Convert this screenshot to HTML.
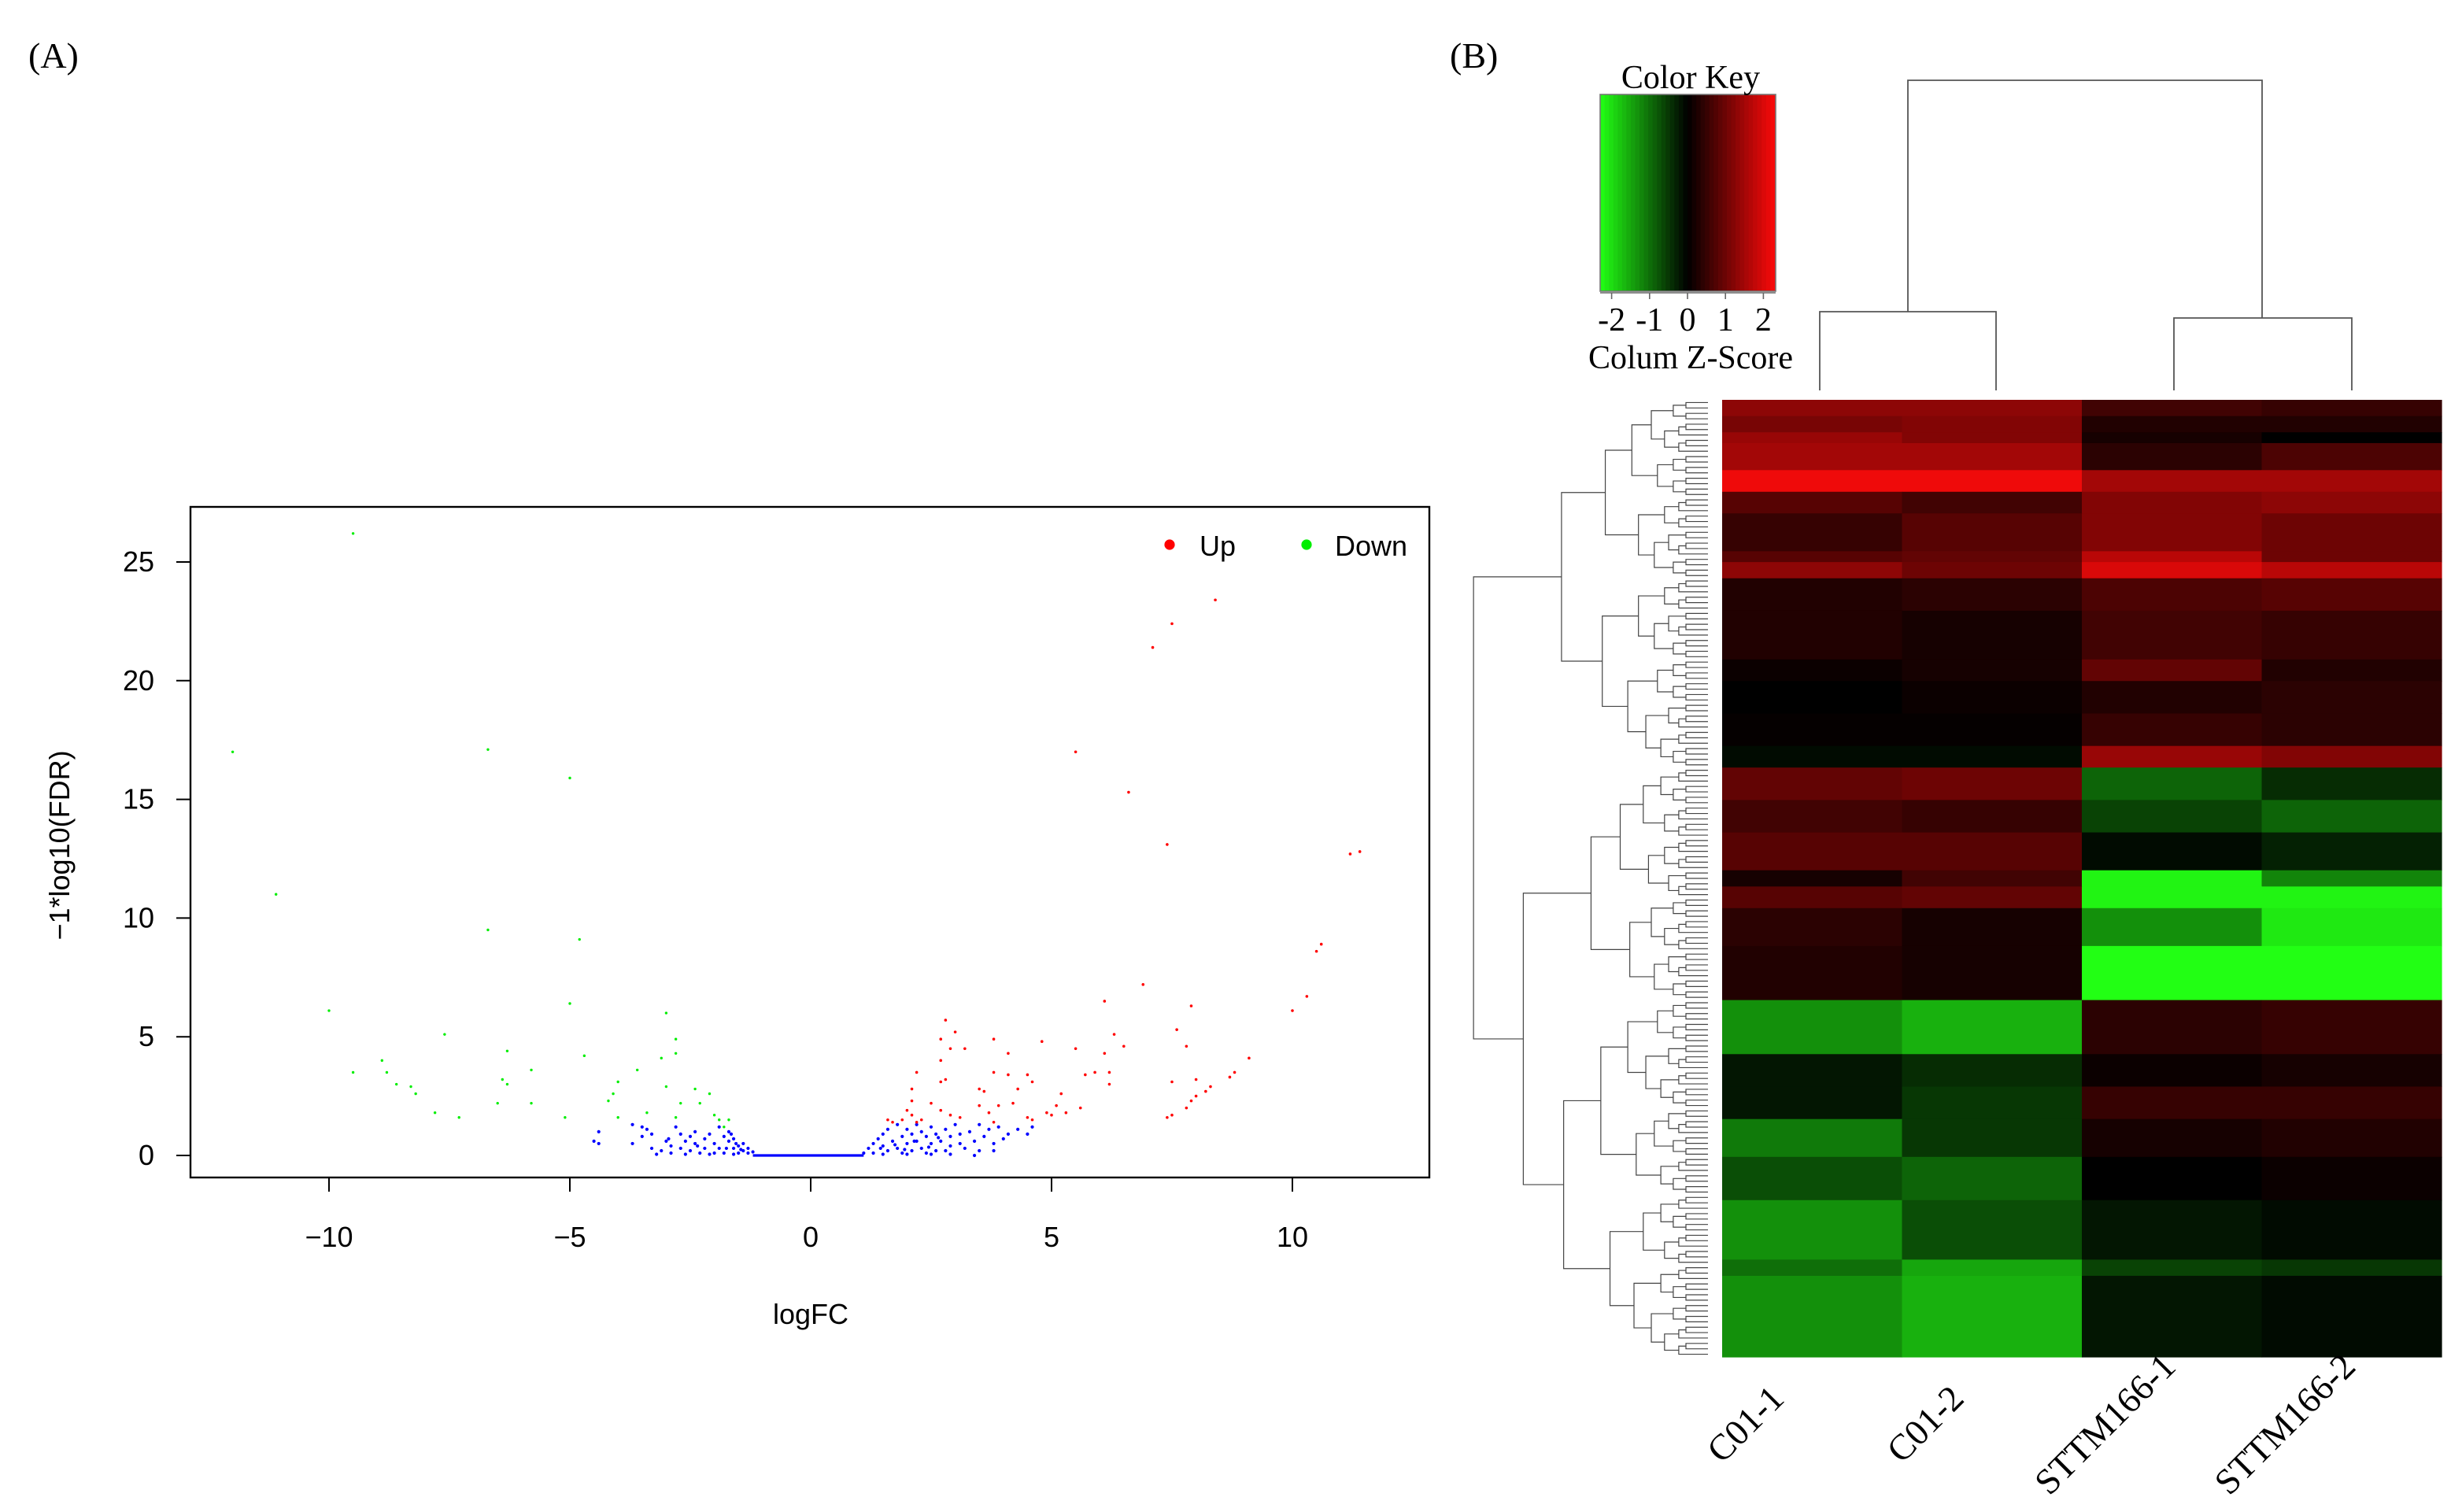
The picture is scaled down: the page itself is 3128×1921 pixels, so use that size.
<!DOCTYPE html>
<html><head><meta charset="utf-8"><style>
html,body{margin:0;padding:0;background:#fff}
svg{display:block}
.sans{font-family:"Liberation Sans",sans-serif}
.serif{font-family:"Liberation Serif",serif}
</style></head><body>
<svg id="fig" width="3128" height="1921" viewBox="0 0 1564 960.5" xmlns="http://www.w3.org/2000/svg">
<rect x="0" y="0" width="1564" height="960.5" fill="#fff"/>
<text class="serif" x="18" y="43" font-size="23">(A)</text>
<text class="serif" x="921" y="43" font-size="23">(B)</text>
<g id="volcano"></g>
<g id="heat"></g>
</svg>
<script>
// ---------------- Volcano data ----------------
const xTicks = [-10, -5, 0, 5, 10];
const yTicks = [0, 5, 10, 15, 20, 25];
const downX = [-9.5,-12,-6.7,-5,-11.1,-6.7,-4.8,-10,-5,-3,-7.6,-2.8,-6.3,-4.7,-2.8,-8.9,-9.5,-8.8,-3.1,-5.8,-3.6,-8.6,-6.4,-6.3,-4,-8.3,-8.2,-4.1,-2.4,-2.1,-3,-6.5,-5.8,-4.2,-2.7,-2.3,-7.8,-7.3,-5.1,-4,-3.4,-2,-1.9,-1.7,-1.8,-2.8];
const downY = [26.2,17,17.1,15.9,11,9.5,9.1,6.1,6.4,6.0,5.1,4.9,4.4,4.2,4.3,4.0,3.5,3.5,4.1,3.6,3.6,3.0,3.2,3.0,3.1,2.9,2.6,2.6,2.8,2.6,2.9,2.2,2.2,2.3,2.2,2.2,1.8,1.6,1.6,1.6,1.8,1.7,1.5,1.5,1.2,1.6];
const upX = [8.4,7.5,7.1,5.5,6.6,7.4,11.2,11.4,10.6,10.5,10.3,10,6.9,6.1,7.9,2.8,3,2.7,3.8,7.6,4.8,6.3,5.5,2.9,3.2,4.1,6.5,7.8,9.1,6.1,2.7,2.2,4.5,5.9,4.1,5.7,6.2,8.8,8.7,3.8,2.7,2.8,7.5,8,4.6,6.2,3.5,4.3,2.1,3.6,5.2,8.3,8.2,2.1,8,7.9,4.2,3.9,5.1,2.5,2.7,3.5,7.8,7.5,7.4,2.0,4.9,5,5.6,4.5,1.6,1.9,2.1,2.3,2.9,3.1,3.7,5.3,4.6,3.8,2.2,1.7];
const upY = [23.4,22.4,21.4,17,15.3,13.1,12.7,12.8,8.9,8.6,6.7,6.1,7.2,6.5,6.3,5.7,5.2,4.9,4.9,5.3,4.8,5.1,4.5,4.5,4.5,4.3,4.6,4.6,4.1,4.3,4.0,3.5,3.4,3.5,3.4,3.4,3.5,3.5,3.3,3.5,3.1,3.2,3.1,3.2,3.1,3.0,2.8,2.8,2.8,2.7,2.6,2.9,2.7,2.3,2.5,2.3,2.2,2.1,2.1,2.2,1.9,2.1,2.0,1.7,1.6,1.9,1.8,1.7,2.0,1.6,1.5,1.5,1.7,1.5,1.7,1.6,1.8,1.8,1.5,1.4,1.4,1.4];
const nsX = [-4.5,-4.4,-4.4,-3.7,-3.7,-3.5,-3.5,-3.4,-3.3,-3.3,-3.1,-3.0,-2.9,-2.9,-2.8,-2.7,-2.7,-2.6,-2.5,-2.5,-2.4,-2.4,-2.3,-2.2,-2.2,-2.1,-2.0,-2.0,-1.9,-1.9,-1.8,-1.8,-1.7,-1.7,-1.6,-1.6,-1.5,-1.5,-1.4,-1.4,-1.3,-1.3,-1.2,-3.2,-2.6,-2.1,-1.6,-1.75,-1.55,-1.45,-1.65,-2.35,-2.95,
 1.1,1.2,1.3,1.3,1.4,1.5,1.5,1.6,1.6,1.7,1.8,1.8,1.9,1.9,2.0,2.0,2.1,2.1,2.2,2.2,2.3,2.3,2.4,2.4,2.5,2.5,2.6,2.6,2.7,2.8,2.8,2.9,2.9,3.0,3.1,3.1,3.2,3.3,3.4,3.5,3.5,3.6,3.7,3.8,3.9,4.0,4.1,4.3,4.5,4.6,3.4,3.8,1.5,2.0,2.5,2.9,1.45,1.75,2.15,2.45,2.65,1.95];
const nsY = [0.6,1.0,0.5,1.3,0.5,1.2,0.8,1.1,0.9,0.3,0.2,0.6,0.4,0.1,1.2,0.9,0.3,0.6,0.2,0.8,0.5,1.0,0.1,0.7,0.3,0.9,0.5,0.1,1.2,0.3,0.8,0.1,0.6,1.0,0.3,0.7,0.4,0.1,0.5,0.2,0.3,0.1,0.15,0.05,0.05,0.05,0.05,0.3,0.5,0.25,0.9,0.4,0.7,
 0.1,0.3,0.5,0.1,0.7,0.4,0.9,0.2,1.1,0.6,1.3,0.3,0.8,0.1,1.1,0.5,0.2,0.9,1.3,0.6,0.3,1.0,0.8,0.1,1.2,0.5,0.2,0.9,0.6,1.1,0.2,0.4,0.8,1.3,0.5,0.9,0.3,1.0,0.6,1.3,0.2,0.8,1.1,0.5,1.2,0.7,0.9,1.1,0.9,1.2,0.0,0.2,0.05,0.05,0.05,0.05,0.3,0.45,0.6,0.35,0.75,0.25];
const nsFlat = [-1.2, 1.1]; // range of points lying at y=0

// ---------------- Heatmap data ----------------
const colLabels = ["C01-1","C01-2","STTM166-1","STTM166-2"];
const bandGenes = [3,3,2,5,4,4,7,2,3,6,9,4,6,6,4,6,6,7,3,4,7,10,10,6,6,7,8,11,3,15];
const zC1 = [1.3,1.1,1.4,1.5,2.2,0.8,0.5,0.8,1.3,0.3,0.3,0.1,0.0,0.05,-0.1,0.9,0.6,0.8,0.2,0.8,0.4,0.3,-1.3,-0.2,-0.2,-1.1,-0.7,-1.3,-1.0,-1.3];
const zC2 = [1.3,1.2,1.2,1.5,2.2,0.6,0.8,0.9,1.0,0.4,0.2,0.2,0.1,0.05,-0.1,1.0,0.5,0.8,0.6,0.9,0.2,0.2,-1.6,-0.4,-0.5,-0.5,-0.9,-0.7,-1.5,-1.6];
const zS1 = [0.6,0.3,0.2,0.4,1.5,1.2,1.2,1.7,2.0,0.7,0.6,0.9,0.3,0.5,1.4,-0.9,-0.6,-0.1,-2.2,-2.2,-1.3,-2.3,0.4,0.1,0.5,0.2,0.0,-0.2,-0.6,-0.2];
const zS2 = [0.5,0.3,0.0,0.7,1.5,1.3,1.0,1.0,1.7,0.8,0.5,0.3,0.4,0.4,1.2,-0.4,-0.9,-0.3,-1.2,-2.2,-2.1,-2.3,0.5,0.2,0.5,0.3,0.1,-0.1,-0.5,-0.1];
const keyTicks = [-2,-1,0,1,2];

const NS = "http://www.w3.org/2000/svg";
function mk(tag, attrs, parent){const e=document.createElementNS(NS,tag);for(const k in attrs)e.setAttribute(k,attrs[k]);parent.appendChild(e);return e;}

// ---------- Volcano ----------
const V = document.getElementById('volcano');
const px0=121, px1=908, py0=322, py1=748;
const sx = v => 515 + 30.6*v;
const sy = v => 734 - 15.08*v;
let frame = mk('rect',{x:px0,y:py0,width:px1-px0,height:py1-py0,fill:'none',stroke:'#000','stroke-width':1.2},V);


xTicks.forEach(t=>{
  const l=mk('line',{x1:sx(t),x2:sx(t),y1:py1,y2:py1+9,stroke:'#000','stroke-width':1},V);
  
  
  const tx=mk('text',{x:sx(t),y:792,'text-anchor':'middle','font-size':18,class:'sans'},V);
  tx.textContent = t<0 ? '\u2212'+Math.abs(t) : String(t);
  
  
});
yTicks.forEach(t=>{
  const l=mk('line',{x1:px0-9,x2:px0,y1:sy(t),y2:sy(t),stroke:'#000','stroke-width':1},V);
  
  
  const tx=mk('text',{x:98,y:sy(t)+6,'text-anchor':'end','font-size':18,class:'sans'},V);
  tx.textContent=String(t);
  
  
});
let xt=mk('text',{x:515,y:841,'text-anchor':'middle','font-size':18,class:'sans'},V);
xt.textContent='logFC';


let yt=mk('text',{x:0,y:0,'text-anchor':'middle','font-size':18,class:'sans',transform:'translate(44,537) rotate(-90)'},V);
yt.textContent='\u22121*log10(FDR)';


let fl=mk('line',{x1:sx(nsFlat[0]),x2:sx(nsFlat[1]),y1:sy(0),y2:sy(0),stroke:'#0000ff','stroke-width':1.6},V);


function pts(xs,ys,col,r,name){
  xs.forEach((x,i)=>{
    const c=mk('circle',{cx:sx(x),cy:sy(ys[i]),r:r,fill:col},V);
    
    
  });
}
pts(nsX,nsY,'#0000ff',1.05,'ns-point');
pts(downX,downY,'#00ee00',0.85,'down-point');
pts(upX,upY,'#ff0000',0.9,'up-point');
let lg=mk('g',{},V);


let d1=mk('circle',{cx:743,cy:346,r:3.3,fill:'#ff0000'},lg);


let t1=mk('text',{x:762,y:353,'font-size':18,class:'sans'},lg);t1.textContent='Up';


let d2=mk('circle',{cx:830,cy:346,r:3.3,fill:'#00ee00'},lg);


let t2=mk('text',{x:848,y:353,'font-size':18,class:'sans'},lg);t2.textContent='Down';



// ---------- Heatmap ----------
const H=document.getElementById('heat');
const hx0=1094, hx1=1551, hy0=254, hy1=862;
const nGenes = bandGenes.reduce((a,b)=>a+b,0);
const gh = (hy1-hy0)/nGenes;
const cw = (hx1-hx0)/4;
function zcol(z){
  let t=Math.max(-1,Math.min(1,z/2.3));
  if(t>=0){return 'rgb('+Math.round(250*t)+','+Math.round(10*t)+','+Math.round(10*t)+')';}
  t=-t; return 'rgb('+Math.round(34*t)+','+Math.round(255*t)+','+Math.round(20*t)+')';
}
const cols=[zC1,zC2,zS1,zS2];
let g0=0;
bandGenes.forEach((n,b)=>{
  cols.forEach((arr,c)=>{
    const r=mk('rect',{x:hx0+c*cw,y:hy0+g0*gh,width:cw+0.3,height:n*gh+0.3,fill:zcol(arr[b])},H);
    
    
  });
  g0+=n;
});
colLabels.forEach((s,c)=>{
  const cx=hx0+(c+0.5)*cw;
  const t=mk('text',{x:0,y:0,'text-anchor':'middle','font-size':23,class:'serif',transform:'translate('+(cx-37)+','+910+') rotate(-45)'},H);
  t.textContent=s;
  
  
});
const tdp = "M1156,248 V198 H1268 V248 M1381,248 V202 H1494 V248 M1212,198 V51 H1437 V202";
let td=mk('path',{d:tdp,fill:'none',stroke:'#555','stroke-width':0.9},H);


let dg=mk('g',{fill:'none',stroke:'#444','stroke-width':0.6},H);


const leafX=1085;
function nodeX(n){return 1082-11*Math.sqrt(n-1);}
function tree(a,b,split){
  const n=b-a;
  if(n===1){return {x:leafX,y:hy0+(a+0.5)*gh};}
  const m = split!==undefined ? split : a+Math.max(1,Math.round(n*((a*7+b*3)%5<2?0.42:0.55)));
  let mm=Math.min(b-1,Math.max(a+1,m));
  const L=tree(a,mm), R=tree(mm,b);
  const x=nodeX(n);
  mk('path',{d:'M'+L.x+','+L.y+' H'+x+' V'+R.y+' H'+R.x},dg);
  return {x:x,y:(L.y+R.y)/2};
}
(function(){
  const An=tree(0,68,33), Bn=tree(68,nGenes,111);
  const x=nodeX(nGenes);
  mk('path',{d:'M'+An.x+','+An.y+' H'+x+' V'+Bn.y+' H'+Bn.x},dg);
})();
const K=mk('g',{},H);


const kx0=1016.5,kx1=1128,ky0=60,ky1=185;
const kscale=v=>1072+24.1*v;
const nSteps=40;
for(let i=0;i<nSteps;i++){
  const v0=-2.3+4.6*i/nSteps, v1=-2.3+4.6*(i+1)/nSteps;
  const r=mk('rect',{x:kscale(v0),y:ky0,width:kscale(v1)-kscale(v0)+0.3,height:ky1-ky0,fill:zcol((v0+v1)/2)},K);
  
  
}
mk('rect',{x:kx0,y:ky0,width:kx1-kx0,height:ky1-ky0,fill:'none',stroke:'#777','stroke-width':0.8},K);
mk('line',{x1:kx0,x2:kx1,y1:ky1+1,y2:ky1+1,stroke:'#666','stroke-width':0.8},K);
keyTicks.forEach(t=>{
  mk('line',{x1:kscale(t),x2:kscale(t),y1:ky1+1,y2:ky1+5,stroke:'#666','stroke-width':0.8},K);
  const tx=mk('text',{x:kscale(t),y:210,'text-anchor':'middle','font-size':21,class:'serif'},K);
  tx.textContent = t<0 ? '-'+Math.abs(t) : String(t);
  
  
});
let kt=mk('text',{x:1074,y:56,'text-anchor':'middle','font-size':21,class:'serif'},K);
kt.textContent='Color Key';


let kz=mk('text',{x:1074,y:234,'text-anchor':'middle','font-size':21,class:'serif'},K);
kz.textContent='Colum Z-Score';


</script>
</body></html>
